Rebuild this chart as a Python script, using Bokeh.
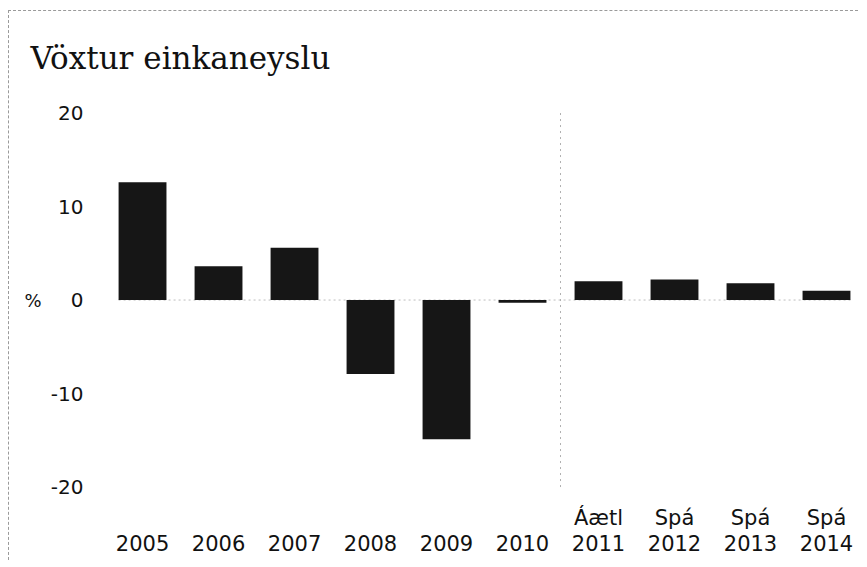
from bokeh.plotting import figure
from bokeh.models import Range1d, FixedTicker, LinearAxis
from bokeh.embed import file_html
from bokeh.resources import INLINE

title = "Vöxtur einkaneyslu"
years = ["2005", "2006", "2007", "2008", "2009", "2010", "2011", "2012", "2013", "2014"]
prefixes = ["", "", "", "", "", "", "Áætl", "Spá", "Spá", "Spá"]
values = [12.6, 3.6, 5.6, -7.9, -14.9, -0.3, 2.0, 2.2, 1.8, 1.0]
y_ticks = [-20, -10, 0, 10, 20]
unit = "%"
forecast_start = "2011"

xs = list(range(len(years)))
bar_w = 0.63
FONT = "DejaVu Sans"

p = figure(width=850, height=550, output_backend="svg", toolbar_location=None,
           x_range=Range1d(-0.553, 9.329), y_range=Range1d(-20.37, 21.34),
           min_border_left=91, min_border_right=8, min_border_top=89, min_border_bottom=71)
p.outline_line_color = None
p.grid.visible = False
p.background_fill_color = "white"
p.border_fill_color = "white"
p.styles = {"margin-left": "8px", "margin-top": "10px",
            "border-top": "1px dashed #9a9a9a", "border-left": "1px dashed #9a9a9a"}

p.title.text = title
p.title.text_font = "DejaVu Serif"
p.title.text_font_size = "31px"
p.title.text_font_style = "normal"
p.title.text_color = "#111111"
p.title.align = "left"
p.title.offset = -70
p.title.standoff = 50

# zero line
p.segment(x0=[xs[0] - bar_w / 2], y0=[0], x1=[xs[-1] + bar_w / 2], y1=[0],
          line_color="#bdbdbd", line_width=1, line_dash="2 3")

# separator between actuals and forecasts
sep = years.index(forecast_start) - 0.5
p.segment(x0=[sep], y0=[min(y_ticks)], x1=[sep], y1=[max(y_ticks)],
          line_color="#b0b0b0", line_width=1, line_dash="2 4")

p.vbar(x=xs, top=values, bottom=0, width=bar_w, fill_color="#161616", line_color=None)

# y axis
p.yaxis.ticker = FixedTicker(ticks=y_ticks)
p.yaxis.major_label_overrides = {t: str(t) for t in y_ticks}
p.yaxis.axis_line_color = None
p.yaxis.major_tick_line_color = None
p.yaxis.minor_tick_line_color = None
p.yaxis.major_label_standoff = 11
p.yaxis.major_label_text_font = FONT
p.yaxis.major_label_text_font_size = "20px"
p.yaxis.major_label_text_color = "#111111"

# unit axis (outer left)
uax = LinearAxis(ticker=FixedTicker(ticks=[0]), major_label_overrides={0: unit})
uax.axis_line_color = None
uax.major_tick_line_color = None
uax.minor_tick_line_color = None
uax.major_label_standoff = 0
uax.major_label_text_font = FONT
uax.major_label_text_font_size = "18px"
uax.major_label_text_color = "#111111"
p.add_layout(uax, "left")

p.xaxis.visible = False

ax1 = LinearAxis(ticker=FixedTicker(ticks=xs),
                 major_label_overrides={i: (t if t else " ") for i, t in enumerate(prefixes)})
ax2 = LinearAxis(ticker=FixedTicker(ticks=xs),
                 major_label_overrides={i: t for i, t in enumerate(years)})
for ax, so in ((ax1, 9), (ax2, -4)):
    ax.axis_line_color = None
    ax.major_tick_line_color = None
    ax.minor_tick_line_color = None
    ax.major_label_standoff = so
    ax.major_label_text_font = FONT
    ax.major_label_text_font_size = "21px"
    ax.major_label_text_color = "#111111"
p.add_layout(ax1, "below")
p.add_layout(ax2, "below")

open("out.html", "w").write(file_html(p, INLINE))
